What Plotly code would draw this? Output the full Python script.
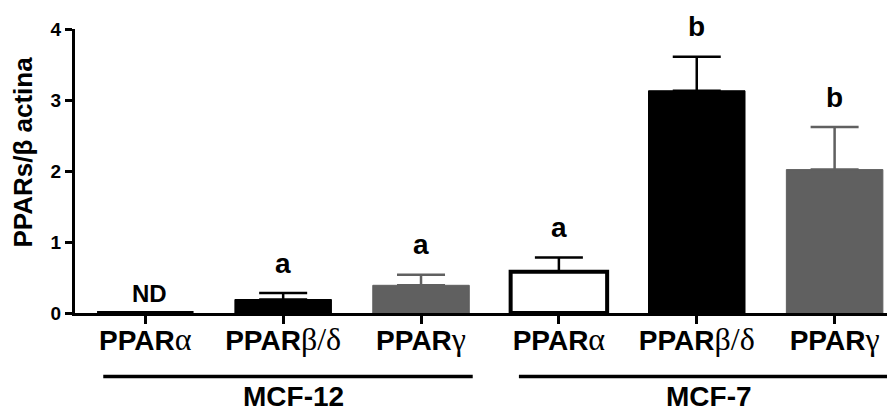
import plotly.graph_objects as go

# ---- data ----
categories = ["PPARα MCF-12", "PPARβ/δ MCF-12", "PPARγ MCF-12",
              "PPARα MCF-7", "PPARβ/δ MCF-7", "PPARγ MCF-7"]
GREEK = '<span style="font-family:Liberation Serif;font-size:32px">%s</span>'
tick_labels = [
    '<b>PPAR</b>' + GREEK % "α",
    '<b>PPAR</b>' + GREEK % "β/δ",
    '<b>PPAR</b>' + GREEK % "γ",
    '<b>PPAR</b>' + GREEK % "α",
    '<b>PPAR</b>' + GREEK % "β/δ",
    '<b>PPAR</b>' + GREEK % "γ",
]
values = [0.0, 0.19, 0.39, 0.58, 3.13, 2.02]
errors = [0.0, 0.09, 0.15, 0.20, 0.48, 0.60]
letters = ["ND", "a", "a", "a", "b", "b"]
groups = ["MCF-12", "MCF-7"]
kind = ["alpha", "beta", "gamma", "alpha", "beta", "gamma"]

styles = {
    "alpha": dict(fill="white", line="black", lw=4, ec="black"),
    "beta": dict(fill="black", line="black", lw=1, ec="black"),
    "gamma": dict(fill="#606060", line="#606060", lw=1, ec="#606060"),
}

Y_MAX = 4.0
x = list(range(len(categories)))
fig = go.Figure()
for k, st in styles.items():
    idx = [i for i in x if kind[i] == k]
    fig.add_trace(go.Bar(
        x=[x[i] for i in idx],
        y=[values[i] for i in idx],
        width=0.70,
        marker=dict(color=st["fill"], line=dict(color=st["line"], width=st["lw"])),
        error_y=dict(type="data", symmetric=False,
                     array=[errors[i] for i in idx],
                     arrayminus=[0] * len(idx),
                     color=st["ec"], thickness=2.5, width=24,
                     visible=True),
        showlegend=False,
        hoverinfo="skip",
    ))

FONT = "Liberation Sans, Arial, sans-serif"
annotations = []
for i, (v, e, t) in enumerate(zip(values, errors, letters)):
    if t == "ND":
        annotations.append(dict(x=x[i] + 0.03, y=(v + 0.28) / Y_MAX, text="<b>ND</b>",
                                showarrow=False, xref="x", yref="paper",
                                font=dict(size=24, color="black", family=FONT),
                                yanchor="middle"))
    else:
        annotations.append(dict(x=x[i], y=(v + e + 0.42) / Y_MAX, text="<b>%s</b>" % t,
                                showarrow=False, xref="x", yref="paper",
                                font=dict(size=28, color="black", family=FONT),
                                yanchor="middle"))

# group labels and lines
group_spans = [(-0.305, 2.375), (2.71, 5.39)]
shapes = []
for (a, b), g in zip(group_spans, groups):
    shapes.append(dict(type="line", xref="x", yref="paper", x0=a, x1=b,
                       y0=-0.224, y1=-0.224, line=dict(color="black", width=3.5)))
    annotations.append(dict(x=(a + b) / 2 + 0.04, y=-0.356, xref="x", yref="paper",
                            text="<b>%s</b>" % g, showarrow=False,
                            font=dict(size=28, color="black", family=FONT),
                            yanchor="bottom"))

# y-axis title
annotations.append(dict(x=-0.064, y=0.565, xref="paper", yref="paper",
                        text="<b>PPARs/β actina</b>", textangle=-90, showarrow=False,
                        font=dict(size=26, color="black", family=FONT),
                        xanchor="center", yanchor="middle"))

fig.update_layout(
    template="none",
    width=893, height=414,
    margin=dict(l=75, r=6, t=29, b=101, autoexpand=False),
    barmode="overlay",
    paper_bgcolor="white", plot_bgcolor="white",
    font=dict(family=FONT, color="black"),
    annotations=annotations,
    shapes=shapes,
    xaxis=dict(range=[-0.51, 5.38], tickmode="array", tickvals=x, ticktext=tick_labels,
               showgrid=False, zeroline=False, showline=True, linecolor="black",
               linewidth=3, ticks="outside", ticklen=8, tickwidth=3, tickcolor="black",
               ticklabelstandoff=-8,
               tickfont=dict(size=28, color="black", family=FONT), automargin=False),
    yaxis=dict(range=[0, Y_MAX], tickmode="array", tickvals=[0, 1, 2, 3, 4],
               ticktext=["<b>0</b>", "<b>1</b>", "<b>2</b>", "<b>3</b>", "<b>4</b>"],
               showgrid=False, zeroline=False, showline=True, linecolor="black",
               linewidth=3, ticks="outside", ticklen=7, tickwidth=3, tickcolor="black",
               tickfont=dict(size=19, color="black", family=FONT), automargin=False),
)

fig.write_html("out.html")
